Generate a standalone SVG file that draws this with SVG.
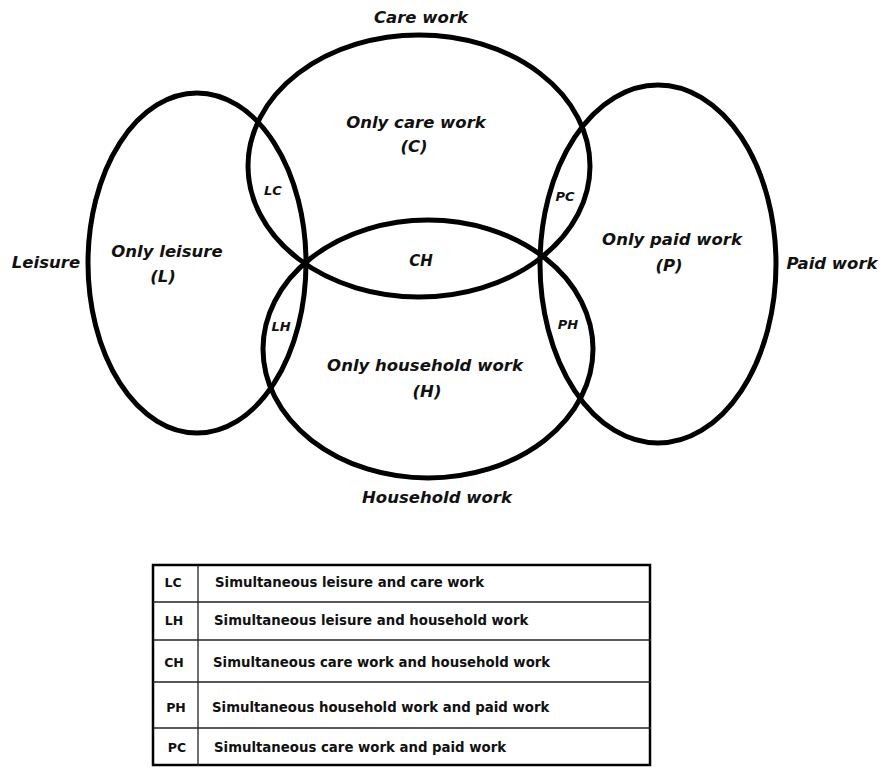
<svg xmlns="http://www.w3.org/2000/svg" width="884" height="768" viewBox="0 0 884 768">
<style>
.set{fill:none;stroke:#000;stroke-width:5}
.lbl{font-family:"DejaVu Sans","Verdana",sans-serif;font-weight:bold;font-style:italic;font-size:16.5px;fill:#111;text-anchor:middle}
.sm{font-size:13px}
.md{font-size:15px}
.tb{font-family:"DejaVu Sans","Verdana",sans-serif;font-weight:bold;font-size:13.3px;fill:#111}
.code{font-size:12.5px;text-anchor:middle}
.rule{stroke:#222;stroke-width:1.3}
</style>
<rect width="884" height="768" fill="#fff"/>
<g id="leisure">
<ellipse class="set" cx="197" cy="263" rx="109" ry="170"/>
<text class="lbl" x="46" y="268">Leisure</text>
<text class="lbl" x="167" y="257">Only leisure</text>
<text class="lbl" x="163" y="282">(L)</text>
</g>
<g id="care">
<ellipse class="set" cx="419" cy="166" rx="171" ry="131"/>
<text class="lbl" x="421" y="23">Care work</text>
<text class="lbl" x="416" y="128">Only care work</text>
<text class="lbl" x="414" y="152">(C)</text>
</g>
<g id="household">
<ellipse class="set" cx="428" cy="349" rx="165" ry="129"/>
<text class="lbl" x="425" y="371">Only household work</text>
<text class="lbl" x="427" y="397">(H)</text>
<text class="lbl" x="437" y="503">Household work</text>
</g>
<g id="paid">
<ellipse class="set" cx="658" cy="264" rx="118" ry="179"/>
<text class="lbl" x="672" y="245">Only paid work</text>
<text class="lbl" x="669" y="271">(P)</text>
<text class="lbl" x="832" y="269">Paid work</text>
</g>
<g id="overlaps">
<text class="lbl sm" x="273" y="195">LC</text>
<text class="lbl sm" x="281" y="331">LH</text>
<text class="lbl md" x="421" y="266">CH</text>
<text class="lbl sm" x="565" y="201">PC</text>
<text class="lbl sm" x="568" y="329">PH</text>
</g>
<g id="connectors"></g>
<g id="legend">
<rect x="153" y="565" width="497" height="200" fill="none" stroke="#000" stroke-width="2.5"/>
<line class="rule" x1="198" y1="565" x2="198" y2="766"/>
<line class="rule" x1="153" y1="602" x2="651" y2="602"/>
<line class="rule" x1="153" y1="640" x2="651" y2="640"/>
<line class="rule" x1="153" y1="682" x2="651" y2="682"/>
<line class="rule" x1="153" y1="728" x2="651" y2="728"/>
<text class="tb code" x="173" y="587">LC</text>
<text class="tb code" x="174" y="625">LH</text>
<text class="tb code" x="174" y="667">CH</text>
<text class="tb code" x="176" y="712">PH</text>
<text class="tb code" x="177" y="752">PC</text>
<text class="tb" x="215" y="587">Simultaneous leisure and care work</text>
<text class="tb" x="214" y="625">Simultaneous leisure and household work</text>
<text class="tb" x="213" y="667">Simultaneous care work and household work</text>
<text class="tb" x="212" y="712">Simultaneous household work and paid work</text>
<text class="tb" x="214" y="752">Simultaneous care work and paid work</text>
</g>
</svg>
